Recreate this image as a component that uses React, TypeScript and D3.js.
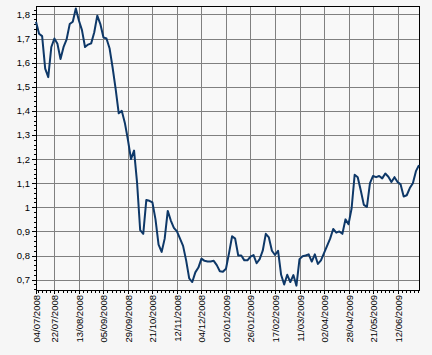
import React from 'react';
import * as d3 from 'd3';

// price sampled every 2 trading days, 04/07/2008 -> end of June 2009
const prices = [
  1.77, 1.72, 1.71, 1.575, 1.54, 1.665, 1.70, 1.678, 1.615, 1.665,
  1.697, 1.76, 1.77, 1.825, 1.775, 1.735, 1.665, 1.675, 1.68, 1.725,
  1.795, 1.76, 1.705, 1.70, 1.66, 1.58, 1.49, 1.39, 1.40, 1.35,
  1.28, 1.20, 1.235, 1.10, 0.905, 0.89, 1.03, 1.027, 1.02, 0.95,
  0.845, 0.815, 0.87, 0.985, 0.945, 0.915, 0.90, 0.87, 0.84, 0.78,
  0.705, 0.69, 0.73, 0.75, 0.787, 0.778, 0.775, 0.775, 0.778, 0.76,
  0.735, 0.733, 0.745, 0.81, 0.88, 0.87, 0.80, 0.80, 0.78, 0.78,
  0.795, 0.802, 0.768, 0.785, 0.82, 0.89, 0.875, 0.82, 0.802, 0.82,
  0.72, 0.68, 0.72, 0.69, 0.719, 0.675, 0.785, 0.797, 0.80, 0.805,
  0.775, 0.805, 0.765, 0.78, 0.81, 0.84, 0.87, 0.91, 0.895, 0.90,
  0.89, 0.95, 0.93, 0.995, 1.135, 1.125, 1.07, 1.01, 1.002, 1.10,
  1.13, 1.125, 1.13, 1.12, 1.14, 1.127, 1.105, 1.125, 1.105, 1.095,
  1.045, 1.05, 1.08, 1.10, 1.15, 1.175,
];
const dayStep = 2;

// x tick labels and their trading-day index
const tickDays = [0, 12, 28, 44, 60, 76, 92, 108, 124, 140, 156, 172, 188, 204, 220, 236];
const tickLabels = [
  '04/07/2008', '22/07/2008', '13/08/2008', '05/09/2008', '29/09/2008', '21/10/2008',
  '12/11/2008', '04/12/2008', '02/01/2009', '26/01/2009', '17/02/2009', '11/03/2009',
  '02/04/2009', '28/04/2009', '21/05/2009', '12/06/2009',
];
const yTicks = [0.7, 0.8, 0.9, 1, 1.1, 1.2, 1.3, 1.4, 1.5, 1.6, 1.7, 1.8];

const W = 432, H = 355;
const left = 36, right = 419, top = 6, bottom = 290;
const font = '"Liberation Sans", Arial, sans-serif';

export default function App() {
  const x = d3.scaleLinear().domain([0, 250]).range([left, right]);
  const y = d3.scaleLinear().domain([0.657, 1.835]).range([bottom, top]);

  const line = d3.line<number>()
    .x((d, i) => x(i * dayStep))
    .y(d => y(d));

  // minor ticks: 6 per major interval, lined up on the 22/07 tick
  const minorStep = 16 / 6;
  const xMinor = d3.range(12 - 4 * minorStep, 250, minorStep);
  const yMinor = d3.range(0.66, 1.83, 0.02);
  const fmt = (v: number) => String(+v.toFixed(1)).replace('.', ',');
  const px = (v: number) => Math.round(v) + 0.5;

  return (
    <svg width={W} height={H} style={{ position: 'absolute', left: 0, top: 0, background: '#f6f6f6' }}>
      <rect x={left} y={top} width={right - left} height={bottom - top} fill="#f8f8f8" />
      {/* grid */}
      {yTicks.map(t => (
        <line key={'gy' + t} x1={left - 4} x2={right} y1={px(y(t))} y2={px(y(t))} stroke="#808080" strokeWidth={1} />
      ))}
      {tickDays.map(t => (
        <line key={'gx' + t} x1={px(x(t))} x2={px(x(t))} y1={top} y2={bottom + 4} stroke="#808080" strokeWidth={1} />
      ))}
      {/* minor ticks */}
      {yMinor.map((t, i) => (
        <line key={'my' + i} x1={left - 2} x2={left} y1={px(y(t))} y2={px(y(t))} stroke="#000" />
      ))}
      {xMinor.map((t, i) => (
        <line key={'mx' + i} x1={px(x(t))} x2={px(x(t))} y1={bottom} y2={bottom + 3} stroke="#000" />
      ))}
      {yTicks.map(t => (
        <line key={'ty' + t} x1={left - 4} x2={left} y1={px(y(t))} y2={px(y(t))} stroke="#000" />
      ))}
      {tickDays.map(t => (
        <line key={'tx' + t} x1={px(x(t))} x2={px(x(t))} y1={bottom} y2={bottom + 4} stroke="#000" />
      ))}
      {/* frame */}
      <rect x={left + 0.5} y={top + 0.5} width={right - left} height={bottom - top} fill="none" stroke="#000" strokeWidth={1} />
      {/* series */}
      <path d={line(prices) || ''} fill="none" stroke="#0e3868" strokeWidth={2} strokeLinejoin="round" />
      {/* labels */}
      {yTicks.map(t => (
        <text key={'ly' + t} x={30} y={y(t)} textAnchor="end" dominantBaseline="central" fontSize={9.5} fontFamily={font} fill="#000">{fmt(t)}</text>
      ))}
      {tickDays.map((t, i) => (
        <text key={'lx' + t} transform={`translate(${x(t) + 0.5},${bottom + 5}) rotate(-90)`} textAnchor="end" dominantBaseline="central" fontSize={9.5} fontFamily={font} fill="#000">{tickLabels[i]}</text>
      ))}
    </svg>
  );
}
